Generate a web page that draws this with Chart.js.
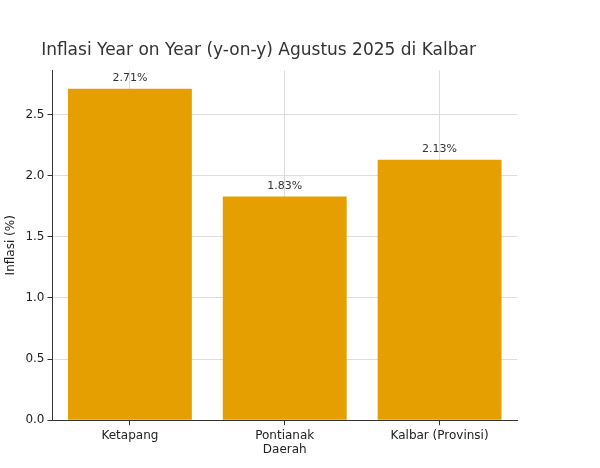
<!DOCTYPE html>
<html><head><meta charset="utf-8">
<script src="https://cdn.jsdelivr.net/npm/chart.js@4"></script>
<style>body{margin:0;background:#fff}#w{width:600px;height:468px}</style>
</head><body><div id="w"><canvas id="c"></canvas></div>
<script>
const categories=[["Ketapang"],["Pontianak","Daerah"],["Kalbar (Provinsi)"]];
const values=[2.71,1.83,2.13];
const yTicks=[0,0.5,1.0,1.5,2.0,2.5];
const labelPlugin={id:'lbl',afterDatasetsDraw(ch){const ctx=ch.ctx;const m=ch.getDatasetMeta(0);ctx.save();ctx.font='11px "DejaVu Sans"';ctx.fillStyle='#333';ctx.textAlign='center';ctx.textBaseline='bottom';m.data.forEach((b,i)=>ctx.fillText(values[i].toFixed(2)+'%',b.x,b.y-5));ctx.restore();}};
new Chart(document.getElementById('c'),{type:'bar',data:{labels:categories,datasets:[{data:values,backgroundColor:'#e5a000',barPercentage:0.8,categoryPercentage:1}]},
options:{responsive:true,maintainAspectRatio:false,animation:false,
layout:{padding:{left:0,right:83,top:10,bottom:8}},
plugins:{legend:{display:false},tooltip:{enabled:false},title:{display:true,text:'Inflasi Year on Year (y-on-y) Agustus 2025 di Kalbar',font:{family:'DejaVu Sans',size:17,weight:'normal'},color:'#333',padding:{top:30,bottom:10}}},
scales:{x:{offset:true,grid:{color:'#ddd',tickColor:'#333',tickLength:5,offset:false,drawOnChartArea:true},border:{color:'#333'},ticks:{color:'#222',font:{family:'DejaVu Sans',size:12}}},
y:{min:0,max:2.86,afterBuildTicks(s){s.ticks=yTicks.map(v=>({value:v}));},grid:{color:'#ddd',tickColor:'#333',tickLength:5},border:{color:'#333'},ticks:{color:'#222',font:{family:'DejaVu Sans',size:12},callback:v=>v.toFixed(1)},title:{display:true,text:'Inflasi (%)',color:'#222',font:{family:'DejaVu Sans',size:12}}}}},
plugins:[labelPlugin]});
</script></body></html>
